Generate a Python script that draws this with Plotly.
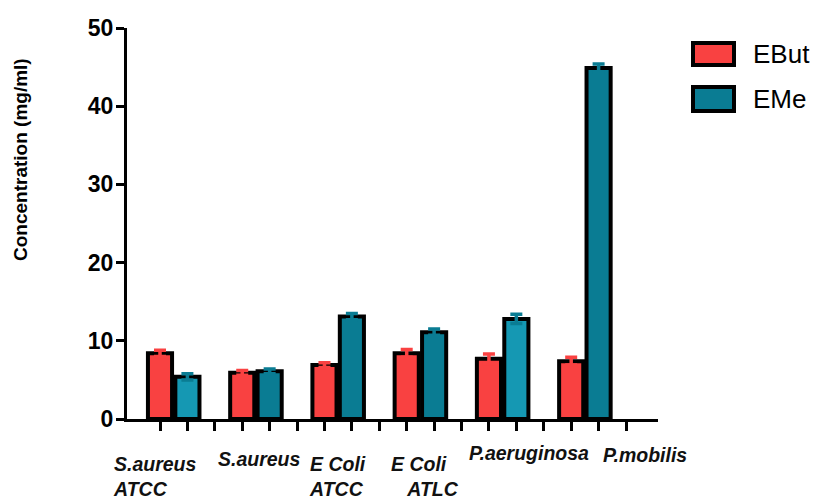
import plotly.graph_objects as go

# ---- data ----
categories = ["S.aureus<br>ATCC", "S.aureus", "E Coli<br>ATCC", "E Coli<br>\u00a0\u00a0\u00a0ATLC", "P.aeruginosa", "P.mobilis"]
series_names = ["EBut", "EMe"]
ebut_values = [8.4, 5.9, 6.9, 8.4, 7.7, 7.4]
eme_values = [5.4, 6.1, 13.1, 11.1, 12.8, 44.9]
ebut_err = [0.4, 0.3, 0.3, 0.5, 0.6, 0.5]
eme_err = [0.4, 0.3, 0.4, 0.4, 0.6, 0.5]
y_ticks = [0, 10, 20, 30, 40, 50]

# ---- style ----
W, H = 817, 500
L, R, T, B = 127, 658, 28, 419
RED = "#F94141"
TEAL = "#0A7C93"
TEAL_LIGHT = "#1598B3"
eme_colors = [TEAL_LIGHT, TEAL, TEAL, TEAL, TEAL_LIGHT, TEAL]
FONT = "Liberation Sans, Arial, sans-serif"

def px(xp):
    return (xp - L) / (R - L)

def py(yp):
    return (B - yp) / (B - T)

n = len(categories)
slot = 3
x_ebut = [slot * i for i in range(n)]
x_eme = [slot * i + 1 for i in range(n)]

fig = go.Figure()
fig.add_trace(go.Bar(
    x=x_ebut, y=ebut_values, name=series_names[0], width=0.88,
    marker=dict(color=RED, line=dict(color="black", width=4)),
    error_y=dict(type="data", array=ebut_err, visible=True, color=RED, thickness=3.5, width=6),
    showlegend=False,
))
fig.add_trace(go.Bar(
    x=x_eme, y=eme_values, name=series_names[1], width=0.88,
    marker=dict(color=eme_colors, line=dict(color="black", width=4)),
    error_y=dict(type="data", array=eme_err, visible=True, color=TEAL, thickness=3.5, width=6),
    showlegend=False,
))

slot_px = (626 - 160) / 17.0
x0 = (L - 160) / slot_px
x1 = (R - 160) / slot_px

fig.update_layout(
    width=W, height=H,
    margin=dict(l=L, r=W - R, t=T, b=H - B, pad=0),
    plot_bgcolor="white", paper_bgcolor="white",
    barmode="overlay",
    xaxis=dict(range=[x0, x1], showgrid=False, zeroline=False,
               showline=True, linecolor="black", linewidth=3,
               tickmode="array", tickvals=list(range(slot * n)),
               ticks="outside", ticklen=9, tickwidth=2.5, tickcolor="black",
               showticklabels=False),
    yaxis=dict(range=[0, 50], showgrid=False, zeroline=False,
               showline=True, linecolor="black", linewidth=3,
               tickmode="array", tickvals=y_ticks,
               ticks="outside", ticklen=8, tickwidth=2.5, tickcolor="black",
               ticklabelstandoff=-2,
               tickfont=dict(family=FONT, size=23, color="black", weight="bold")),
    showlegend=False,
)

# category labels (positions: left px, top px)
label_pos = [(112, 452), (217, 447), (308, 452), (390, 452), (468, 441), (602, 443)]
for txt, (lx, ty) in zip(categories, label_pos):
    fig.add_annotation(text=txt, xref="paper", yref="paper", x=px(lx), y=py(ty),
                       xanchor="left", yanchor="top", align="left", showarrow=False,
                       borderpad=0,
                       font=dict(family=FONT, size=19.5, color="#111", weight="bold", style="italic"))

# y title
fig.add_annotation(text="Concentration (mg/ml)", xref="paper", yref="paper",
                   x=px(20), y=py(160), textangle=-90, showarrow=False,
                   xanchor="center", yanchor="middle",
                   font=dict(family=FONT, size=19, color="black", weight="bold"))

# legend (manual)
leg = [(series_names[0], RED, 43, 65), (series_names[1], TEAL, 87, 111)]
for name, col, y_top, y_bot in leg:
    fig.add_shape(type="rect", xref="paper", yref="paper",
                  x0=px(693), x1=px(734), y0=py(y_bot), y1=py(y_top),
                  fillcolor=col, line=dict(color="black", width=4))
    fig.add_annotation(text=name, xref="paper", yref="paper",
                       x=px(751), y=py((y_top + y_bot) / 2), xanchor="left", yanchor="middle",
                       showarrow=False, font=dict(family=FONT, size=26, color="black"))

fig.write_html("out.html")
